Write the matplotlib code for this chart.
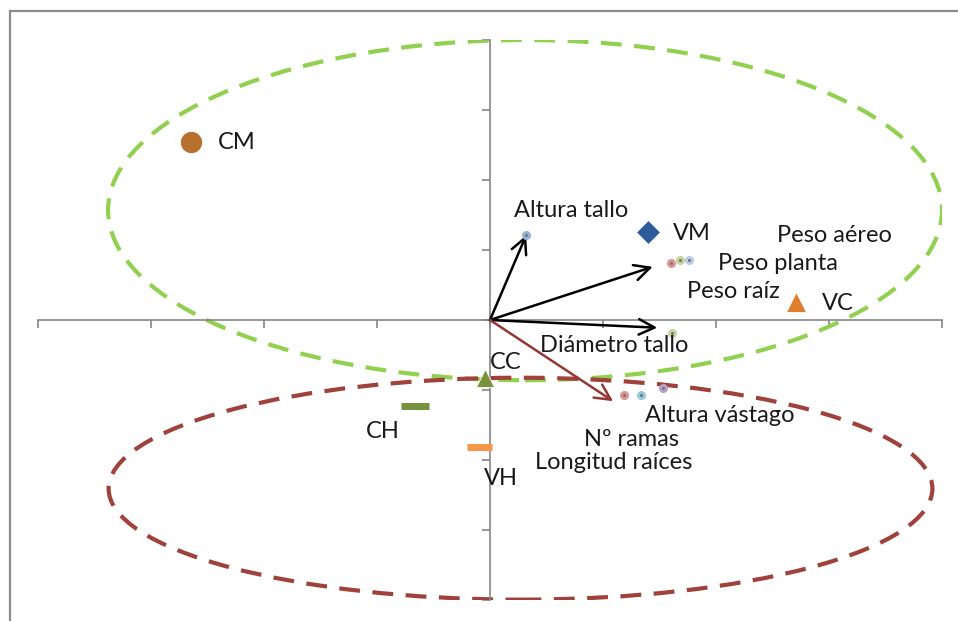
import matplotlib.pyplot as plt
from matplotlib.patches import Ellipse, Rectangle

plt.rcParams["font.family"] = ["Lato", "DejaVu Sans"]

# treatments (scores)
obs_names = ["CM", "VM", "VC", "CC", "CH", "VH"]
obs_x = [-2.65, 1.40, 2.71, -0.04, -0.66, -0.10]
obs_y = [2.54, 1.26, 0.26, -0.83, -1.23, -1.81]
obs_marker = ["o", "D", "^", "^", "_", "_"]
obs_color = ["#B8702F", "#2E5C9A", "#E07E30", "#77933C", "#77933C", "#F79646"]
obs_size = [16, 12, 15, 13, 20, 18]

# variables (loadings)
var_names = ["Altura tallo", "Peso raíz", "Peso planta", "Peso aéreo",
             "Diámetro tallo", "Nº ramas", "Longitud raíces", "Altura vástago"]
var_x = [0.32, 1.60, 1.68, 1.76, 1.61, 1.19, 1.34, 1.53]
var_y = [1.21, 0.81, 0.86, 0.86, -0.19, -1.07, -1.07, -0.97]
var_color = ["#95B3D7", "#D99694", "#C3D69B", "#B9CDE5",
             "#C3D69B", "#D99694", "#93CDDD", "#B3A2C7"]

# arrows drawn from the origin
arrow_x = [0.32, 1.44, 1.48, 1.09]
arrow_y = [1.21, 0.76, -0.11, -1.16]
arrow_color = ["black", "black", "black", "#953735"]

# group ellipses: centre x, centre y, width, height
ell_cx = [0.31, 0.27]
ell_cy = [1.57, -2.41]
ell_w = [7.38, 7.29]
ell_h = [4.86, 3.17]
ell_color = ["#92D050", "#A0413C"]

fig = plt.figure(figsize=(9.58, 6.21), dpi=100)
fig.patches.append(Rectangle((10 / 958, -0.1), 1.2, (621 - 11) / 621 + 0.1,
                             transform=fig.transFigure, fill=False,
                             edgecolor="#8C8C8C", linewidth=1.6))
ax = fig.add_axes([38 / 958, 1 - 600 / 621, 904 / 958, 560 / 621])
ax.set_xlim(-4, 4)
ax.set_ylim(-4, 4)
for side in ("top", "right"):
    ax.spines[side].set_visible(False)
for side in ("left", "bottom"):
    ax.spines[side].set_position(("data", 0))
    ax.spines[side].set_color("#868686")
    ax.spines[side].set_linewidth(1.2)
ax.set_xticks(range(-4, 5))
ax.set_yticks(range(-4, 5))
ax.tick_params(direction="out", length=6, width=1.2, color="#868686",
               labelbottom=False, labelleft=False)
ax.patch.set_alpha(0)

for cx, cy, w, h, c in zip(ell_cx, ell_cy, ell_w, ell_h, ell_color):
    ax.add_patch(Ellipse((cx, cy), w, h, fill=False, edgecolor=c,
                         linewidth=3, linestyle=(0, (5, 3)), zorder=2))

for x, y, c in zip(arrow_x, arrow_y, arrow_color):
    ax.annotate("", xy=(x, y), xytext=(0, 0),
                arrowprops=dict(arrowstyle="->", color=c, lw=1.8,
                                mutation_scale=28, shrinkA=0, shrinkB=0),
                zorder=3)

for x, y, c in zip(var_x, var_y, var_color):
    ax.plot(x, y, marker="o", markersize=5.5, color=c, markeredgecolor=c,
            linestyle="none", zorder=4)
    ax.plot(x, y, marker="o", markersize=1.2, color="#777777",
            linestyle="none", zorder=5)

for x, y, m, c, s in zip(obs_x, obs_y, obs_marker, obs_color, obs_size):
    if m == "_":
        ax.plot(x, y, marker=m, markersize=s, markeredgewidth=5, color=c,
                linestyle="none", zorder=6)
    else:
        ax.plot(x, y, marker=m, markersize=s, color=c, markeredgecolor="white",
                markeredgewidth=0.6, linestyle="none", zorder=6)

# label positions (left edge x, centre y) in data units
obs_lx = [-2.41, 1.62, 2.94, 0.0, -1.10, -0.05]
obs_ly = [2.53, 1.24, 0.23, -0.61, -1.59, -2.27]
var_lx = [0.21, 1.74, 2.02, 2.54, 0.44, 0.83, 0.40, 1.37]
var_ly = [1.56, 0.41, 0.81, 1.20, -0.36, -1.70, -2.04, -1.36]

for name, x, y in zip(obs_names, obs_lx, obs_ly):
    ax.text(x, y, name, fontsize=17, ha="left", va="center",
            color="#1A1A1A", zorder=7)
for name, x, y in zip(var_names, var_lx, var_ly):
    ax.text(x, y, name, fontsize=17, ha="left", va="center",
            color="#1A1A1A", zorder=7)

fig.savefig("out.png", dpi=100)
